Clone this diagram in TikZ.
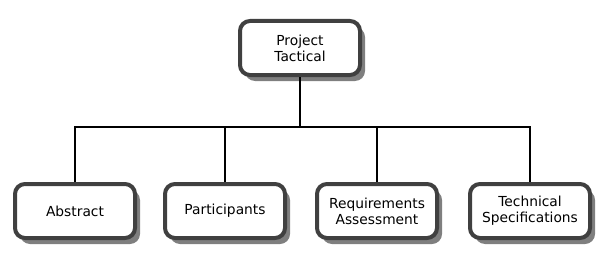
\documentclass[tikz,border=0pt]{standalone}
\usepackage{fontspec}
\setmainfont{DejaVu Sans}
\usetikzlibrary{shadows}
\definecolor{boxline}{HTML}{404040}
\tikzset{
  box/.style={draw=boxline, line width=4pt, rounded corners=10pt, fill=white,
    minimum width=120pt, minimum height=54pt, align=center,
    font=\fontsize{13.8}{16}\selectfont,
    drop shadow={shadow xshift=5pt, shadow yshift=-6pt, fill=black, opacity=0.5}},
  wire/.style={line width=2pt}
}
\begin{document}
\begin{tikzpicture}[x=1pt,y=1pt]
\useasboundingbox (0,0) rectangle (612,263);
\coordinate (T) at (300,215);
\coordinate (A) at (75,52);
\coordinate (P) at (225,52);
\coordinate (R) at (377,52);
\coordinate (S) at (530,52);
\coordinate (bus) at (300,136);

\node[box] (tac) at (T) {Project\\Tactical};
\node[box] (abs) at (A) {Abstract};
\node[box] (part) at (P) {Participants};
\node[box] (req) at (R) {Requirements\\Assessment};
\node[box] (tech) at (S) {Technical\\Specifications};

\draw[wire] (tac.south) -- (tac.south |- bus);
\draw[wire] (abs.north) |- (bus) -| (tech.north);
\draw[wire] (part.north) -- (part.north |- bus);
\draw[wire] (req.north) -- (req.north |- bus);
\end{tikzpicture}
\end{document}
